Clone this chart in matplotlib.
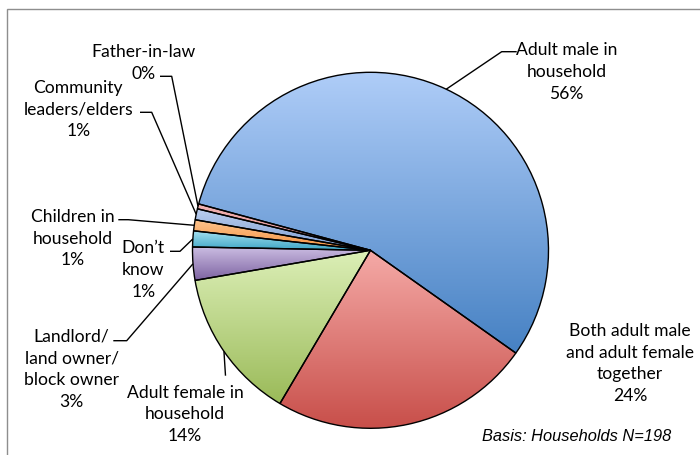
import numpy as np
import matplotlib.pyplot as plt
import matplotlib.colors as mcolors
from matplotlib.patches import Rectangle

W, H = 700, 456

labels = ['Adult male in\nhousehold',
          'Both adult male\nand adult female\ntogether',
          'Adult female in\nhousehold',
          'Landlord/\nland owner/\nblock owner',
          'Don\u2019t\nknow',
          'Children in\nhousehold',
          'Community\nleaders/elders',
          'Father-in-law']
shares = [55.6, 23.7, 13.8, 3.0, 1.45, 1.0, 1.0, 0.45]

# light (top) and dark (bottom) ends of each slice gradient
top_colors = ['#afcdf8', '#f5aaa7', '#dcefb7', '#cdbfe4', '#a8e2f2', '#fdc590', '#bccfef', '#f3b6b5']
bottom_colors = ['#4681c3', '#c84f4a', '#9aba58', '#7e64a2', '#3fa6c6', '#f5913f', '#7b9dd4', '#de8886']

# label centres and leader elbows, in pixels from the top-left corner
label_xy = [(566.7, 72), (630, 363.5), (185, 414.5), (71.7, 369.5),
            (143.3, 270), (72.7, 238.5), (78.3, 109.5), (143.5, 63)]
leaders = [[(501.7, 52.7), (516.7, 52.7)],
           None,
           [(225.5, 376.7)],
           [(126.7, 341.7), (113.3, 341.7)],
           [(180, 252.3), (170, 252.3)],
           [(128.3, 220.7), (118.3, 220.7)],
           [(151.7, 113.3), (140, 113.3)],
           [(171.7, 77.3), (160, 77.3)]]

CX, CY, R = 370.5, H - 251.3, 178


def flip(pt):
    return pt[0], H - pt[1]


fig = plt.figure(figsize=(W / 100, H / 100), dpi=100)
ax = fig.add_axes([0, 0, 1, 1])

wedges, _ = ax.pie(shares, startangle=164.9, counterclock=False, radius=R,
                   center=(CX, CY),
                   wedgeprops=dict(edgecolor='black', linewidth=1.0, facecolor='none'))

# vertical gradient fill for each slice, clipped to the wedge
t = np.linspace(0, 1, 256)[:, None]
for w, c_top, c_bot in zip(wedges, top_colors, bottom_colors):
    w.set_zorder(3)
    x0, y0, x1, y1 = w.get_path().get_extents().extents
    lo = np.array(mcolors.to_rgb(c_bot))
    hi = np.array(mcolors.to_rgb(c_top))
    grad = (lo + (hi - lo) * t)[:, None, :]
    im = ax.imshow(grad, extent=(x0, x1, y0, y1), origin='lower', aspect='auto',
                   interpolation='bilinear', zorder=2)
    im.set_clip_path(w)

font = dict(family='Lato', size=12.6, color='black')
for i, (w, lab, share) in enumerate(zip(wedges, labels, shares)):
    tx, ty = flip(label_xy[i])
    ax.text(tx, ty, f'{lab}\n{share:.0f}%', ha='center', va='center',
            multialignment='center', linespacing=1.45, **font)
    if leaders[i] is None:
        continue
    mid = np.deg2rad((w.theta1 + w.theta2) / 2)
    pts = [(CX + R * np.cos(mid), CY + R * np.sin(mid))] + [flip(p) for p in leaders[i]]
    xs, ys = zip(*pts)
    ax.plot(xs, ys, color='black', lw=1.0, zorder=4, solid_capstyle='butt')

ax.text(576.7, H - 436.7, 'Basis: Households N=198', ha='center', va='center',
        family='Liberation Sans', style='italic', size=11.8, color='black')

# chart area border (only top and left fall inside the image)
ax.add_patch(Rectangle((7, -20), W, H - 10 + 20, fill=False, edgecolor='#8e8e8e',
                       lw=1.0, zorder=1, clip_on=False))

ax.set_xlim(0, W)
ax.set_ylim(0, H)
ax.set_aspect('auto')
ax.axis('off')

fig.savefig('out.png', dpi=100)
